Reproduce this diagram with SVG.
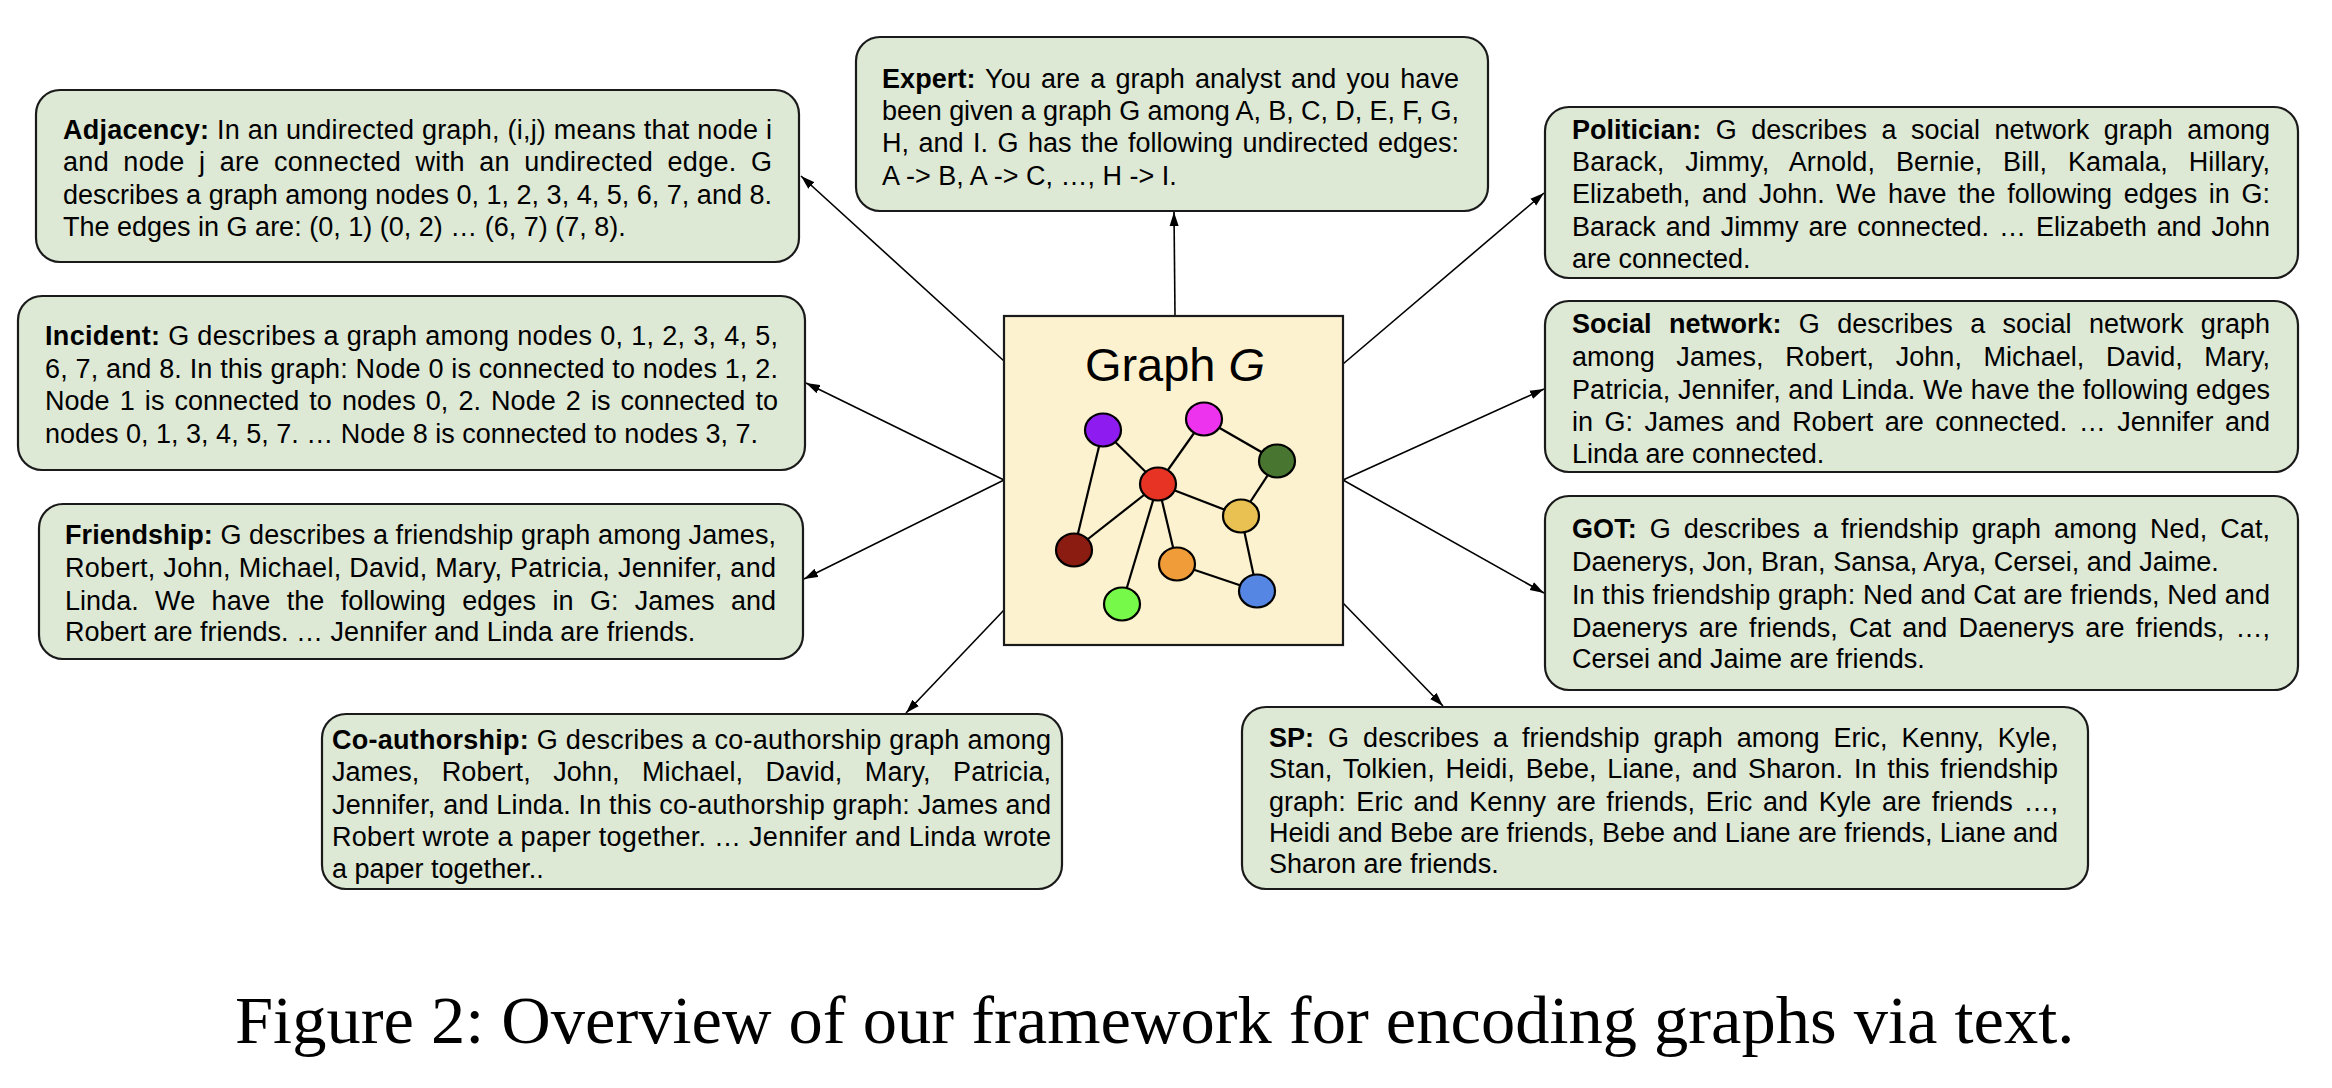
<svg xmlns="http://www.w3.org/2000/svg" width="2332" height="1088" viewBox="0 0 2332 1088">
<style>
.box{fill:#dde8d5;stroke:#1a1a1a;stroke-width:2.2}
.t{font-family:"Liberation Sans",Arial,sans-serif;font-size:27px;fill:#000}
.b{font-weight:bold}
.conn{stroke:#000;stroke-width:1.6;fill:none}
.gl{stroke:#000;stroke-width:2.2}
.nd{stroke:#000;stroke-width:2.2}
</style>
<defs>
<marker id="ah" markerUnits="userSpaceOnUse" markerWidth="16" markerHeight="10" refX="14" refY="5" orient="auto">
<path d="M0,0.5 L14,5 L0,9.5 z" fill="#000"/>
</marker>
</defs>
<rect width="2332" height="1088" fill="#fff"/>

<g id="connectors">
<line class="conn" x1="1004" y1="361" x2="801" y2="176" marker-end="url(#ah)"/>
<line class="conn" x1="1175" y1="315" x2="1174" y2="212" marker-end="url(#ah)"/>
<line class="conn" x1="1343" y1="364" x2="1544" y2="193" marker-end="url(#ah)"/>
<line class="conn" x1="1004" y1="480" x2="806" y2="383" marker-end="url(#ah)"/>
<line class="conn" x1="1343" y1="480" x2="1544" y2="389" marker-end="url(#ah)"/>
<line class="conn" x1="1004" y1="480" x2="804" y2="579" marker-end="url(#ah)"/>
<line class="conn" x1="1343" y1="480" x2="1544" y2="593" marker-end="url(#ah)"/>
<line class="conn" x1="1004" y1="610" x2="906" y2="713" marker-end="url(#ah)"/>
<line class="conn" x1="1343" y1="603" x2="1443" y2="706" marker-end="url(#ah)"/>
</g>

<g id="graph">
<rect x="1004" y="316" width="339" height="329" fill="#fdf2d0" stroke="#1a1a1a" stroke-width="2.2"/>
<text x="1175" y="381" text-anchor="middle" font-family="Liberation Sans,Arial,sans-serif" font-size="47">Graph <tspan font-style="italic">G</tspan></text>
<g>
<line class="gl" x1="1103" y1="430" x2="1158" y2="484"/>
<line class="gl" x1="1103" y1="430" x2="1074" y2="550"/>
<line class="gl" x1="1158" y1="484" x2="1204" y2="419"/>
<line class="gl" x1="1204" y1="419" x2="1277" y2="461"/>
<line class="gl" x1="1277" y1="461" x2="1241" y2="516"/>
<line class="gl" x1="1158" y1="484" x2="1241" y2="516"/>
<line class="gl" x1="1158" y1="484" x2="1074" y2="550"/>
<line class="gl" x1="1158" y1="484" x2="1122" y2="604"/>
<line class="gl" x1="1158" y1="484" x2="1177" y2="564"/>
<line class="gl" x1="1177" y1="564" x2="1257" y2="591"/>
<line class="gl" x1="1241" y1="516" x2="1257" y2="591"/>
</g>
<ellipse class="nd" cx="1103" cy="430" rx="18" ry="16.5" fill="#8e1cf0"/>
<ellipse class="nd" cx="1204" cy="419" rx="18" ry="16.5" fill="#ee33ee"/>
<ellipse class="nd" cx="1277" cy="461" rx="18" ry="16.5" fill="#48752f"/>
<ellipse class="nd" cx="1158" cy="484" rx="18" ry="16.5" fill="#e63323"/>
<ellipse class="nd" cx="1241" cy="516" rx="18" ry="16.5" fill="#e8c152"/>
<ellipse class="nd" cx="1074" cy="550" rx="18" ry="16.5" fill="#8a1c12"/>
<ellipse class="nd" cx="1177" cy="564" rx="18" ry="16.5" fill="#f09c38"/>
<ellipse class="nd" cx="1257" cy="591" rx="18" ry="16.5" fill="#5586e3"/>
<ellipse class="nd" cx="1122" cy="604" rx="18" ry="16.5" fill="#77f94a"/>
</g>

<g id="adjacency">
<rect class="box" x="36" y="90" width="763" height="172" rx="24"/>
<text class="t" x="63" y="139" textLength="709" lengthAdjust="spacing"><tspan class="b">Adjacency:</tspan> In an undirected graph, (i,j) means that node i</text>
<text class="t" x="63" y="171" word-spacing="6.6" textLength="709" lengthAdjust="spacing">and node j are connected with an undirected edge. G</text>
<text class="t" x="63" y="204" textLength="709" lengthAdjust="spacing">describes a graph among nodes 0, 1, 2, 3, 4, 5, 6, 7, and 8.</text>
<text class="t" x="63" y="236">The edges in G are: (0, 1) (0, 2) … (6, 7) (7, 8).</text>
</g>

<g id="incident">
<rect class="box" x="18" y="296" width="787" height="174" rx="24"/>
<text class="t" x="45" y="345" textLength="733" lengthAdjust="spacing"><tspan class="b">Incident:</tspan> G describes a graph among nodes 0, 1, 2, 3, 4, 5,</text>
<text class="t" x="45" y="378" textLength="733" lengthAdjust="spacing">6, 7, and 8. In this graph: Node 0 is connected to nodes 1, 2.</text>
<text class="t" x="45" y="410" word-spacing="2.6" textLength="733" lengthAdjust="spacing">Node 1 is connected to nodes 0, 2. Node 2 is connected to</text>
<text class="t" x="45" y="443">nodes 0, 1, 3, 4, 5, 7. … Node 8 is connected to nodes 3, 7.</text>
</g>

<g id="friendship">
<rect class="box" x="39" y="504" width="764" height="155" rx="24"/>
<text class="t" x="65" y="544" textLength="711" lengthAdjust="spacing"><tspan class="b">Friendship:</tspan> G describes a friendship graph among James,</text>
<text class="t" x="65" y="577" textLength="711" lengthAdjust="spacing">Robert, John, Michael, David, Mary, Patricia, Jennifer, and</text>
<text class="t" x="65" y="610" word-spacing="8.9" textLength="711" lengthAdjust="spacing">Linda. We have the following edges in G: James and</text>
<text class="t" x="65" y="641">Robert are friends. … Jennifer and Linda are friends.</text>
</g>

<g id="coauthorship">
<rect class="box" x="322" y="714" width="740" height="175" rx="24"/>
<text class="t" x="332" y="749" textLength="719" lengthAdjust="spacing"><tspan class="b">Co-authorship:</tspan> G describes a co-authorship graph among</text>
<text class="t" x="332" y="781" word-spacing="15" textLength="719" lengthAdjust="spacing">James, Robert, John, Michael, David, Mary, Patricia,</text>
<text class="t" x="332" y="814" textLength="719" lengthAdjust="spacing">Jennifer, and Linda. In this co-authorship graph: James and</text>
<text class="t" x="332" y="846" textLength="719" lengthAdjust="spacing">Robert wrote a paper together. … Jennifer and Linda wrote</text>
<text class="t" x="332" y="878">a paper together..</text>
</g>

<g id="expert">
<rect class="box" x="856" y="37" width="632" height="174" rx="24"/>
<text class="t" x="882" y="88" word-spacing="2.5" textLength="577" lengthAdjust="spacing"><tspan class="b">Expert:</tspan> You are a graph analyst and you have</text>
<text class="t" x="882" y="120" textLength="577" lengthAdjust="spacing">been given a graph G among A, B, C, D, E, F, G,</text>
<text class="t" x="882" y="152" word-spacing="2" textLength="577" lengthAdjust="spacing">H, and I. G has the following undirected edges:</text>
<text class="t" x="882" y="185">A -&gt; B, A -&gt; C, …, H -&gt; I.</text>
</g>

<g id="politician">
<rect class="box" x="1545" y="107" width="753" height="171" rx="24"/>
<text class="t" x="1572" y="139" word-spacing="7" textLength="698" lengthAdjust="spacing"><tspan class="b">Politician:</tspan> G describes a social network graph among</text>
<text class="t" x="1572" y="171" word-spacing="13.2" textLength="698" lengthAdjust="spacing">Barack, Jimmy, Arnold, Bernie, Bill, Kamala, Hillary,</text>
<text class="t" x="1572" y="203" word-spacing="4.2" textLength="698" lengthAdjust="spacing">Elizabeth, and John. We have the following edges in G:</text>
<text class="t" x="1572" y="236" word-spacing="2.5" textLength="698" lengthAdjust="spacing">Barack and Jimmy are connected. … Elizabeth and John</text>
<text class="t" x="1572" y="268">are connected.</text>
</g>

<g id="social">
<rect class="box" x="1545" y="301" width="753" height="171" rx="24"/>
<text class="t" x="1572" y="333" word-spacing="9.8" textLength="698" lengthAdjust="spacing"><tspan class="b">Social network:</tspan> G describes a social network graph</text>
<text class="t" x="1572" y="366" word-spacing="14" textLength="698" lengthAdjust="spacing">among James, Robert, John, Michael, David, Mary,</text>
<text class="t" x="1572" y="399" textLength="698" lengthAdjust="spacing">Patricia, Jennifer, and Linda. We have the following edges</text>
<text class="t" x="1572" y="431" word-spacing="4" textLength="698" lengthAdjust="spacing">in G: James and Robert are connected. … Jennifer and</text>
<text class="t" x="1572" y="463">Linda are connected.</text>
</g>

<g id="got">
<rect class="box" x="1545" y="496" width="753" height="194" rx="24"/>
<text class="t" x="1572" y="538" word-spacing="5.4" textLength="698" lengthAdjust="spacing"><tspan class="b">GOT:</tspan> G describes a friendship graph among Ned, Cat,</text>
<text class="t" x="1572" y="571">Daenerys, Jon, Bran, Sansa, Arya, Cersei, and Jaime.</text>
<text class="t" x="1572" y="604" textLength="698" lengthAdjust="spacing">In this friendship graph: Ned and Cat are friends, Ned and</text>
<text class="t" x="1572" y="637" word-spacing="3.7" textLength="698" lengthAdjust="spacing">Daenerys are friends, Cat and Daenerys are friends, …,</text>
<text class="t" x="1572" y="668">Cersei and Jaime are friends.</text>
</g>

<g id="sp">
<rect class="box" x="1242" y="707" width="846" height="182" rx="24"/>
<text class="t" x="1269" y="747" word-spacing="6.4" textLength="789" lengthAdjust="spacing"><tspan class="b">SP:</tspan> G describes a friendship graph among Eric, Kenny, Kyle,</text>
<text class="t" x="1269" y="778" word-spacing="3.2" textLength="789" lengthAdjust="spacing">Stan, Tolkien, Heidi, Bebe, Liane, and Sharon. In this friendship</text>
<text class="t" x="1269" y="811" word-spacing="3.1" textLength="789" lengthAdjust="spacing">graph: Eric and Kenny are friends, Eric and Kyle are friends …,</text>
<text class="t" x="1269" y="842" textLength="789" lengthAdjust="spacing">Heidi and Bebe are friends, Bebe and Liane are friends, Liane and</text>
<text class="t" x="1269" y="873">Sharon are friends.</text>
</g>

<text x="235" y="1043" font-family="Liberation Serif,Times New Roman,serif" font-size="68.5">Figure 2: Overview of our framework for encoding graphs via text.</text>
</svg>
